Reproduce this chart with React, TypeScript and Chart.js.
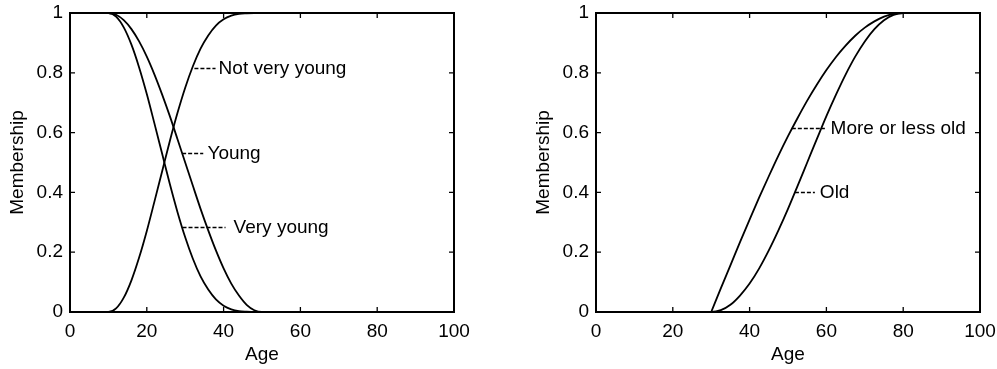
import React, { useEffect, useRef } from "react";
import { Chart, registerables } from "chart.js";
Chart.register(...registerables);

// ---------- data ----------
const youngAges = [0, 10, 12, 14, 16, 18, 20, 22, 24, 26, 28, 30, 32, 34, 36, 38, 40, 42, 44, 46, 48, 50, 100];
const young = [1, 1, 0.994, 0.976, 0.946, 0.905, 0.854, 0.794, 0.727, 0.655, 0.578, 0.5, 0.422, 0.345, 0.273, 0.206, 0.146, 0.095, 0.055, 0.024, 0.006, 0, 0];
const veryYoung = [1, 1, 0.988, 0.952, 0.894, 0.818, 0.729, 0.63, 0.529, 0.428, 0.334, 0.25, 0.178, 0.119, 0.075, 0.042, 0.021, 0.009, 0.003, 0.001, 0, 0, 0];
const notVeryYoung = [0, 0, 0.012, 0.048, 0.106, 0.182, 0.271, 0.37, 0.471, 0.572, 0.666, 0.75, 0.822, 0.881, 0.925, 0.958, 0.979, 0.991, 0.997, 0.999, 1, 1, 1];

const oldAges = [0, 30, 32.5, 35, 37.5, 40, 42.5, 45, 47.5, 50, 52.5, 55, 57.5, 60, 62.5, 65, 67.5, 70, 72.5, 75, 77.5, 80, 100];
const old = [0, 0, 0.006, 0.024, 0.055, 0.095, 0.146, 0.206, 0.273, 0.345, 0.422, 0.5, 0.578, 0.655, 0.727, 0.794, 0.854, 0.905, 0.946, 0.976, 0.994, 1, 1];
const moreOrLessOld = [0, 0, 0.079, 0.156, 0.234, 0.309, 0.383, 0.454, 0.523, 0.588, 0.649, 0.707, 0.76, 0.809, 0.853, 0.891, 0.924, 0.951, 0.972, 0.988, 0.997, 1, 1];

const xTickValues = [0, 20, 40, 60, 80, 100];
const yTickValues = [0, 0.2, 0.4, 0.6, 0.8, 1];

const xTitle = "Age";
const yTitle = "Membership";

type Note = { text: string; x0: number; x1: number; y: number; tx: number };

const leftNotes: Note[] = [
  { text: "Not very young", x0: 32.4, x1: 37.9, y: 0.815, tx: 38.7 },
  { text: "Young", x0: 29.2, x1: 34.7, y: 0.533, tx: 35.8 },
  { text: "Very young", x0: 29.3, x1: 40.5, y: 0.285, tx: 42.6 },
];
const rightNotes: Note[] = [
  { text: "More or less old", x0: 51.0, x1: 59.6, y: 0.614, tx: 61.1 },
  { text: "Old", x0: 51.8, x1: 57.0, y: 0.402, tx: 58.3 },
];

// ---------- styling ----------
const FONT = "'Liberation Sans', Arial, Helvetica, sans-serif";
const FONT_SIZE = 19;
const W = 471;
const H = 369;

const pts = (xs: number[], ys: number[]) => xs.map((x, i) => ({ x, y: ys[i] }));
const ptsRange = (xs: number[], ys: number[], lo: number, hi: number) =>
  xs.map((x, i) => ({ x, y: ys[i] })).filter((p) => p.x >= lo && p.x <= hi);

const lineDs = (data: { x: number; y: number }[]) => ({
  data,
  borderColor: "#000",
  borderWidth: 1.8,
  pointRadius: 0,
  fill: false,
  cubicInterpolationMode: "monotone" as const,
});

const framePlugin = {
  id: "frame",
  afterDatasetsDraw(chart: any, _args: any, opts: any) {
    const { ctx, chartArea: a, scales } = chart;
    const xs = scales.x;
    const ys = scales.y;
    ctx.save();
    ctx.strokeStyle = "#000";
    ctx.lineWidth = 2;
    ctx.strokeRect(a.left, a.top, a.right - a.left, a.bottom - a.top);
    ctx.lineWidth = 1.3;
    ctx.beginPath();
    const tl = 5;
    xTickValues.slice(1, -1).forEach((t) => {
      const px = xs.getPixelForValue(t);
      ctx.moveTo(px, a.bottom);
      ctx.lineTo(px, a.bottom - tl);
      ctx.moveTo(px, a.top);
      ctx.lineTo(px, a.top + tl);
    });
    yTickValues.slice(1, -1).forEach((t) => {
      const py = ys.getPixelForValue(t);
      ctx.moveTo(a.left, py);
      ctx.lineTo(a.left + tl, py);
      ctx.moveTo(a.right, py);
      ctx.lineTo(a.right - tl, py);
    });
    ctx.stroke();

    const notes: Note[] = (opts && opts.notes) || [];
    ctx.font = `${FONT_SIZE}px ${FONT}`;
    ctx.fillStyle = "#000";
    ctx.textBaseline = "middle";
    ctx.textAlign = "left";
    notes.forEach((n) => {
      const py = Math.round(ys.getPixelForValue(n.y)) + 0.5;
      ctx.beginPath();
      ctx.setLineDash([4, 2]);
      ctx.lineWidth = 1.5;
      ctx.moveTo(xs.getPixelForValue(n.x0), py);
      ctx.lineTo(xs.getPixelForValue(n.x1), py);
      ctx.stroke();
      ctx.setLineDash([]);
      ctx.fillText(n.text, xs.getPixelForValue(n.tx), py);
    });
    ctx.restore();
  },
};

const zeroPad = (s: any) => {
  s.paddingTop = 0;
  s.paddingBottom = 0;
  s.paddingLeft = 0;
  s.paddingRight = 0;
};

function Panel({ datasets, notes, left }: { datasets: any[]; notes: Note[]; left: number }) {
  const ref = useRef<HTMLCanvasElement>(null);
  useEffect(() => {
    const font = { family: FONT, size: FONT_SIZE };
    const chart = new Chart(ref.current as HTMLCanvasElement, {
      type: "line",
      data: { datasets },
      options: {
        animation: false,
        responsive: false,
        devicePixelRatio: 1,
        layout: { padding: { top: 13, right: 17, bottom: 0, left: 0 } },
        plugins: {
          legend: { display: false },
          tooltip: { enabled: false },
          // @ts-ignore
          frame: { notes },
        },
        scales: {
          x: {
            type: "linear",
            min: 0,
            max: 100,
            grid: { display: false, drawTicks: false },
            border: { display: false },
            afterBuildTicks: (s: any) => {
              s.ticks = xTickValues.map((v) => ({ value: v }));
            },
            ticks: { color: "#000", font, padding: 8, maxRotation: 0 },
            title: { display: true, text: xTitle, color: "#000", font, padding: { top: 0, bottom: 3 } },
            afterFit: (s: any) => {
              s.height = 57;
              zeroPad(s);
            },
          },
          y: {
            type: "linear",
            min: 0,
            max: 1,
            grid: { display: false, drawTicks: false },
            border: { display: false },
            afterBuildTicks: (s: any) => {
              s.ticks = yTickValues.map((v) => ({ value: v }));
            },
            ticks: {
              color: "#000",
              font,
              padding: 7,
              callback: (v: any) => String(Number(Number(v).toFixed(1))),
            },
            title: { display: true, text: yTitle, color: "#000", font, padding: { top: 6, bottom: 0 } },
            afterFit: (s: any) => {
              s.width = 70;
              zeroPad(s);
            },
          },
        },
      },
      plugins: [framePlugin],
    } as any);
    return () => chart.destroy();
  }, []);
  return (
    <canvas
      ref={ref}
      width={W}
      height={H}
      style={{ position: "absolute", left, top: 0, width: W, height: H }}
    />
  );
}

export default function App() {
  const leftSets = [lineDs(pts(youngAges, young)), lineDs(pts(youngAges, veryYoung)), lineDs(pts(youngAges, notVeryYoung))];
  const rightSets = [
    lineDs(pts(oldAges, old)),
    lineDs(ptsRange(oldAges, moreOrLessOld, 0, 30)),
    lineDs(ptsRange(oldAges, moreOrLessOld, 30, 100)),
  ];
  return (
    <div style={{ position: "fixed", left: 0, top: 0, width: 997, height: 369, background: "#fff", overflow: "hidden" }}>
      <Panel datasets={leftSets} notes={leftNotes} left={0} />
      <Panel datasets={rightSets} notes={rightNotes} left={526} />
    </div>
  );
}
